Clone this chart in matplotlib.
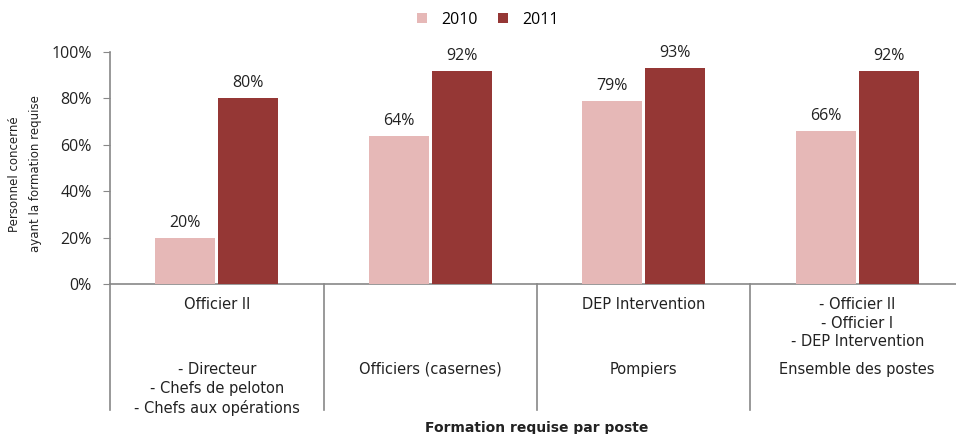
import matplotlib.pyplot as plt
import numpy as np

# Data
postes = ["Directeur/Chefs", "Officiers (casernes)", "Pompiers", "Ensemble des postes"]
formation_labels = ["Officier II", "", "DEP Intervention",
                    "- Officier II\n- Officier I\n- DEP Intervention"]
poste_labels = ["- Directeur\n- Chefs de peloton\n- Chefs aux opérations",
                "Officiers (casernes)", "Pompiers", "Ensemble des postes"]
years = ["2010", "2011"]
vals_2010 = [20, 64, 79, 66]
vals_2011 = [80, 92, 93, 92]

colours = {"2010": "#E6B8B7", "2011": "#953735"}
plt.rcParams["font.family"] = ["Open Sans", "DejaVu Sans"]
txt = "#222222"

W, H = 956, 434
fig = plt.figure(figsize=(W / 100, H / 100), dpi=100)
# axis from x=110 to x~964, y from 284 (0%) to 52 (100%)
ax = fig.add_axes([110 / W, (H - 284) / H, (964 - 110) / W, (284 - 52) / H])

x = np.arange(len(postes))
bw = 60 / 213.5
gap = 3 / 213.5
for vals, yr, off in [(vals_2010, "2010", -(bw + gap) / 2), (vals_2011, "2011", (bw + gap) / 2)]:
    bars = ax.bar(x + off, vals, bw, color=colours[yr], label=yr, zorder=3)
    for b, v in zip(bars, vals):
        ax.text(b.get_x() + b.get_width() / 2, v + 3.0, f"{v}%", ha="center",
                va="bottom", fontsize=11.5, color=txt)

ax.set_xlim(-0.5, len(postes) - 0.5)
ax.set_ylim(0, 100)
ax.set_yticks(np.arange(0, 101, 20))
ax.set_yticklabels([f"{t}%" for t in range(0, 101, 20)], fontsize=11.5, color=txt)
ax.tick_params(axis="y", length=5, color="#888888", pad=8)
ax.set_xticks([])
for s in ["top", "right"]:
    ax.spines[s].set_visible(False)
for s in ["left", "bottom"]:
    ax.spines[s].set_color("#888888")
    ax.spines[s].set_linewidth(1.2)

# category separators below the axis
px = 232.0
sep_bottom = -(410 - 284) / px
for b in np.arange(len(postes) + 1) - 0.5:
    ax.plot([b, b], [0, sep_bottom], transform=ax.get_xaxis_transform(),
            color="#888888", lw=1.2, clip_on=False)

tr = ax.get_xaxis_transform()
for i in range(len(postes)):
    ax.text(i, -(297 - 284) / px, formation_labels[i], transform=tr,
            ha="center", va="top", fontsize=10.5, family="DejaVu Sans",
            linespacing=1.3, color=txt)
    ax.text(i, -(362 - 284) / px, poste_labels[i], transform=tr,
            ha="center", va="top", fontsize=10.5, family="DejaVu Sans",
            linespacing=1.3, color=txt)

fig.text(537 / W, 1 - 428 / H, "Formation requise par poste", ha="center", va="center",
         fontsize=10, fontweight="bold", family="DejaVu Sans", color=txt)
fig.text(15 / W, 1 - 174 / H, "Personnel concerné", rotation=90, ha="center",
         va="center", fontsize=8.5, family="DejaVu Sans", color=txt)
fig.text(36 / W, 1 - 174 / H, "ayant la formation requise", rotation=90, ha="center",
         va="center", fontsize=8.5, family="DejaVu Sans", color=txt)

ax.legend(loc="center", bbox_to_anchor=(488 / W, 1 - 20 / H), bbox_transform=fig.transFigure,
          ncol=2, frameon=False, fontsize=11.5, handlelength=0.6, handleheight=0.6,
          columnspacing=1.3, handletextpad=0.9)

fig.savefig("out.png", dpi=100)
